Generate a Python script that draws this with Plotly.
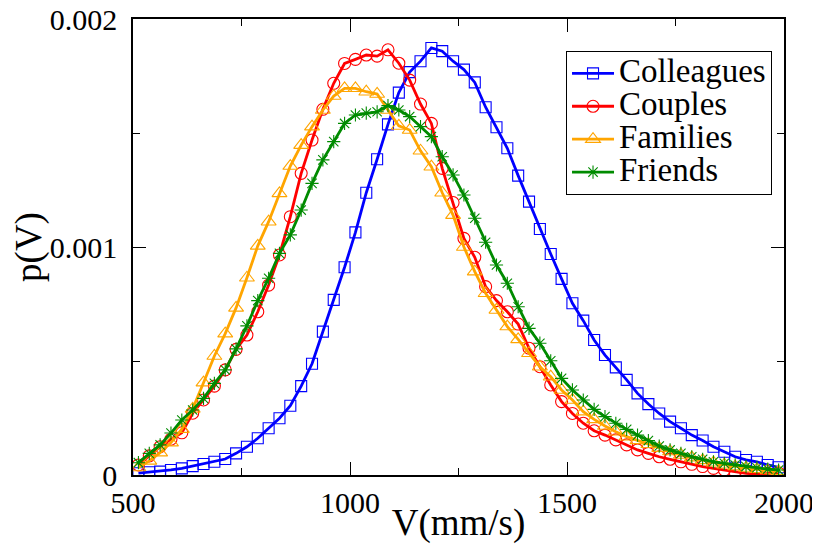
import plotly.graph_objects as go

# bin centres (mm/s)
v = [512.5 + 25 * k for k in range(60)]

colleagues = [
    0.000008, 0.000012, 0.000015, 0.000022, 0.000029, 0.000039, 0.000048, 0.000058, 0.000070, 0.000095,
    0.000124, 0.000161, 0.000205, 0.000249, 0.000304, 0.000390, 0.000488, 0.000629, 0.000768, 0.000911,
    0.001064, 0.001238, 0.001385, 0.001538, 0.001677, 0.001767, 0.001815, 0.001873, 0.001859, 0.001815,
    0.001778, 0.001722, 0.001613, 0.001525, 0.001433, 0.001313, 0.001199, 0.001079, 0.000969, 0.000860,
    0.000753, 0.000677, 0.000592, 0.000526, 0.000472, 0.000417, 0.000358, 0.000311, 0.000270, 0.000234,
    0.000205, 0.000175, 0.000151, 0.000124, 0.000102, 0.000080, 0.000066, 0.000058, 0.000044, 0.000034,
]

couples = [
    0.000044, 0.000084, 0.000124, 0.000157, 0.000185, 0.000271, 0.000329, 0.000390, 0.000461, 0.000551,
    0.000614, 0.000716, 0.000833, 0.000965, 0.001133, 0.001323, 0.001469, 0.001604, 0.001718, 0.001805,
    0.001823, 0.001842, 0.001837, 0.001865, 0.001806, 0.001732, 0.001627, 0.001542, 0.001345, 0.001195,
    0.001038, 0.000955, 0.000826, 0.000765, 0.000716, 0.000662, 0.000556, 0.000475, 0.000395, 0.000322,
    0.000270, 0.000227, 0.000194, 0.000175, 0.000154, 0.000132, 0.000110, 0.000095, 0.000080, 0.000069,
    0.000058, 0.000047, 0.000037, 0.000029, 0.000022, 0.000012, 0.000007, 0.000004, 0.000007, 0.000009,
]

families = [
    0.000033, 0.000062, 0.000098, 0.000142, 0.000201, 0.000290, 0.000405, 0.000522, 0.000620, 0.000733,
    0.000865, 0.001005, 0.001111, 0.001235, 0.001355, 0.001447, 0.001528, 0.001601, 0.001662, 0.001696,
    0.001696, 0.001681, 0.001671, 0.001601, 0.001531, 0.001513, 0.001422, 0.001352, 0.001238, 0.001140,
    0.001000, 0.000892, 0.000797, 0.000724, 0.000651, 0.000595, 0.000534, 0.000475, 0.000431, 0.000373,
    0.000329, 0.000278, 0.000244, 0.000215, 0.000190, 0.000168, 0.000152, 0.000135, 0.000118, 0.000103,
    0.000088, 0.000076, 0.000064, 0.000054, 0.000045, 0.000037, 0.000031, 0.000025, 0.000020, 0.000016,
]

friends = [
    0.000054, 0.000095, 0.000132, 0.000184, 0.000241, 0.000285, 0.000336, 0.000402, 0.000461, 0.000553,
    0.000654, 0.000765, 0.000863, 0.000972, 0.001053, 0.001162, 0.001279, 0.001382, 0.001462, 0.001542,
    0.001579, 0.001587, 0.001593, 0.001620, 0.001601, 0.001572, 0.001528, 0.001484, 0.001396, 0.001316,
    0.001228, 0.001126, 0.001021, 0.000921, 0.000841, 0.000738, 0.000643, 0.000578, 0.000501, 0.000424,
    0.000373, 0.000329, 0.000288, 0.000256, 0.000227, 0.000200, 0.000175, 0.000151, 0.000127, 0.000110,
    0.000095, 0.000080, 0.000069, 0.000058, 0.000051, 0.000044, 0.000037, 0.000032, 0.000026, 0.000022,
]

x_tick_vals = [500, 1000, 1500, 2000]
x_tick_text = ["500", "1000", "1500", "2000"]
y_tick_vals = [0, 0.001, 0.002]
y_tick_text = ["0", "0.001", "0.002"]

series = [
    ("Colleagues", colleagues, "#0000ff", "square-open", 11),
    ("Couples", couples, "#ff0000", "circle-open", 12),
    ("Families", families, "#ffa500", "triangle-up-open", 13),
    ("Friends", friends, "#008b00", "asterisk-open", 11),
]

FONT = "Liberation Serif"

fig = go.Figure()
for name, ys, col, sym, sz in series:
    fig.add_trace(go.Scatter(
        x=v, y=ys, mode="lines+markers",
        name="<span style='font-size:33px'>" + name + "</span>",
        line=dict(color=col, width=2.8),
        marker=dict(symbol=sym, size=sz, color=col, line=dict(width=1.1, color=col)),
    ))

tick_font = dict(family=FONT, size=30, color="black")
title_font = dict(family=FONT, size=37, color="black")

fig.update_xaxes(
    range=[500, 2000], tickvals=x_tick_vals, ticktext=x_tick_text,
    showline=True, linecolor="black", linewidth=1.6, mirror="ticks",
    ticks="inside", ticklen=13, tickwidth=1.3, tickcolor="black",
    showgrid=False, zeroline=False, tickfont=tick_font, ticklabeloverflow="allow",
    automargin=False,
    minor=dict(ticks="inside", ticklen=7, tickwidth=1.3, tickcolor="black", dtick=250, tick0=500),
    title=dict(text="V(mm/s)", font=title_font, standoff=0),
)

fig.update_layout(
    yaxis=dict(
        range=[0, 0.002], tickvals=y_tick_vals, ticktext=y_tick_text,
        showline=True, linecolor="black", linewidth=1.6, mirror="ticks",
        ticks="inside", ticklen=13, tickwidth=1.3, tickcolor="black",
        showgrid=False, zeroline=False, tickfont=tick_font, ticklabelstandoff=8,
        ticklabeloverflow="allow", automargin=False,
        minor=dict(ticks="inside", ticklen=7, tickwidth=1.3, tickcolor="black", dtick=0.0005, tick0=0),
        title=dict(text="p(V)", font=title_font, standoff=0),
    ),
    # short outward ticks on the left axis, as in the reference
    yaxis2=dict(
        overlaying="y", anchor="x", side="left", range=[0, 0.002],
        tickvals=y_tick_vals, showticklabels=False, showline=False,
        ticks="outside", ticklen=8, tickwidth=1.3, tickcolor="black",
        showgrid=False, zeroline=False, automargin=False,
        minor=dict(ticks="outside", ticklen=8, tickwidth=1.3, tickcolor="black", dtick=0.0005, tick0=0),
    ),
)

# page body has an 8px default margin, so the figure is 8px smaller than the window
fig.update_layout(
    template="none",
    width=812, height=536,
    margin=dict(l=125, r=36, t=11, b=69, autoexpand=False),
    paper_bgcolor="white", plot_bgcolor="white",
    font=dict(family=FONT, size=30, color="black"),
    legend=dict(
        x=0.9816, y=0.93, xanchor="right", yanchor="top",
        bordercolor="black", borderwidth=1, bgcolor="white",
        font=dict(family=FONT, size=23, color="black"),
        itemwidth=42, tracegroupgap=0,
    ),
    showlegend=True,
)

fig.write_html("out.html")
